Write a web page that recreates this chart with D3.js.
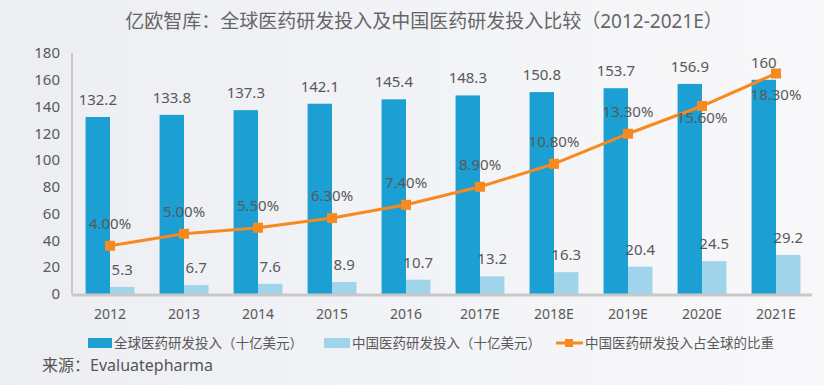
<!DOCTYPE html>
<html>
<head>
<meta charset="utf-8">
<script src="https://cdn.jsdelivr.net/npm/d3@7"></script>
<style>
  body{margin:0;padding:0;}
  svg{display:block;font-family:"Noto Sans","Noto Sans CJK SC",sans-serif;}
</style>
</head>
<body>
<svg id="svg" width="824" height="385"></svg>
<script>
const years=["2012","2013","2014","2015","2016","2017E","2018E","2019E","2020E","2021E"];
const globalRD=[132.2,133.8,137.3,142.1,145.4,148.3,150.8,153.7,156.9,160];
const chinaRD=[5.3,6.7,7.6,8.9,10.7,13.2,16.3,20.4,24.5,29.2];
const chinaShare=[0.04,0.05,0.055,0.063,0.074,0.089,0.108,0.133,0.156,0.183];
const yTicks=[0,20,40,60,80,100,120,140,160,180];
const seriesNames=["全球医药研发投入（十亿美元）","中国医药研发投入（十亿美元）","中国医药研发投入占全球的比重"];

const darkBlue="#1c9fd3", lightBlue="#9fd4ea", orange="#f7891f", textColor="#595959";

var svg=d3.select("#svg");

// background
var grad=svg.append("defs").append("linearGradient").attr("id","bg").attr("x1","0").attr("x2","1")
grad.append("stop").attr("offset","0").attr("stop-color","#eceef2")
grad.append("stop").attr("offset","1").attr("stop-color","#f8f8fa")
svg.append("rect").attr("width",824).attr("height",385).attr("fill","url(#bg)")

// title
svg.append("text")
    .attr("x",424).attr("y",28)
    .attr("text-anchor","middle")
    .style("font-size","19px")
    .style("fill","#666")
    .text("亿欧智库：全球医药研发投入及中国医药研发投入比较（2012-2021E）")

//scales
var x0=d3.scaleBand().domain(years).range([73,813]).paddingInner(0.34).paddingOuter(0.17)
var x1=d3.scaleBand().domain(["g","c"]).range([0,x0.bandwidth()])
var y=d3.scaleLinear().domain([0,180]).range([294,53])
var y2=d3.scaleLinear().domain([0,0.2]).range([294,53])

// y axis labels
svg.append("g").selectAll("text")
    .data(yTicks).enter().append("text")
        .attr("x",60)
        .attr("y",d=>y(d))
        .attr("dy","0.35em")
        .attr("text-anchor","end")
        .style("font-size","15px")
        .style("fill",textColor)
        .text(d=>d)

// axis lines
svg.append("line").attr("x1",72).attr("x2",72).attr("y1",53).attr("y2",295)
    .attr("stroke","#cacaca").attr("stroke-width",2)

// bars
var groups=svg.append("g").selectAll("g")
    .data(years).enter().append("g")
        .attr("transform",d=>"translate("+x0(d)+",0)")

groups.append("rect")
    .attr("x",x1("g"))
    .attr("width",x1.bandwidth())
    .attr("y",(d,i)=>y(globalRD[i]))
    .attr("height",(d,i)=>y(0)-y(globalRD[i]))
    .attr("fill",darkBlue)

groups.append("rect")
    .attr("x",x1("c"))
    .attr("width",x1.bandwidth())
    .attr("y",(d,i)=>y(chinaRD[i]))
    .attr("height",(d,i)=>y(0)-y(chinaRD[i]))
    .attr("fill",lightBlue)

groups.append("text")
    .attr("x",x1("g")+x1.bandwidth()/2)
    .attr("y",(d,i)=>y(globalRD[i])-12)
    .attr("text-anchor","middle")
    .style("font-size","15px")
    .style("fill",textColor)
    .text((d,i)=>globalRD[i])

groups.append("text")
    .attr("x",x1("c")+x1.bandwidth()/2)
    .attr("y",(d,i)=>y(chinaRD[i])-12)
    .attr("text-anchor","middle")
    .style("font-size","15px")
    .style("fill",textColor)
    .text((d,i)=>chinaRD[i])

svg.append("line").attr("x1",72).attr("x2",812).attr("y1",295).attr("y2",295)
    .attr("stroke","#c8c8c8").attr("stroke-width",3)

// x labels
svg.append("g").selectAll("text")
    .data(years).enter().append("text")
        .attr("x",d=>x0(d)+x0.bandwidth()/2)
        .attr("y",319)
        .attr("text-anchor","middle")
        .style("font-size","14px")
        .style("fill",textColor)
        .text(d=>d)

// share line
var cx=d=>x0(d)+x0.bandwidth()/2
var line=d3.line().x((d,i)=>cx(years[i])).y(d=>y2(d))
svg.append("path")
    .datum(chinaShare)
    .attr("d",line)
    .attr("fill","none")
    .attr("stroke",orange)
    .attr("stroke-width",3)

svg.append("g").selectAll("rect")
    .data(chinaShare).enter().append("rect")
        .attr("x",(d,i)=>cx(years[i])-5)
        .attr("y",d=>y2(d)-5)
        .attr("width",10).attr("height",10)
        .attr("fill",orange)

//label offsets: last two points are labelled below the marker
var labelDy=[-17,-17,-17,-17,-17,-17,-17,-17,17,27]
svg.append("g").selectAll("text")
    .data(chinaShare).enter().append("text")
        .attr("x",(d,i)=>cx(years[i]))
        .attr("y",(d,i)=>y2(d)+labelDy[i])
        .attr("text-anchor","middle")
        .style("font-size","15px")
        .style("fill",textColor)
        .text(d=>(d*100).toFixed(2)+"%")

// legend
var legend=svg.append("g").attr("transform","translate(0,343)")
legend.append("rect").attr("x",88).attr("y",-5).attr("width",24).attr("height",10).attr("fill",darkBlue)
legend.append("rect").attr("x",324).attr("y",-5).attr("width",26).attr("height",10).attr("fill",lightBlue)
legend.append("line").attr("x1",556).attr("x2",583).attr("y1",0).attr("y2",0).attr("stroke",orange).attr("stroke-width",3)
legend.append("rect").attr("x",565).attr("y",-4).attr("width",8).attr("height",8).attr("fill",orange)
legend.selectAll("text")
    .data(seriesNames).enter().append("text")
        .attr("x",(d,i)=>[114,352,585][i])
        .attr("dy","0.35em")
        .style("font-size","13.5px")
        .style("fill",textColor)
        .text(d=>d)

// source
svg.append("text")
    .attr("x",42).attr("y",371)
    .style("font-size","16px")
    .style("fill","#555")
    .text("来源：Evaluatepharma")
</script>
</body>
</html>
